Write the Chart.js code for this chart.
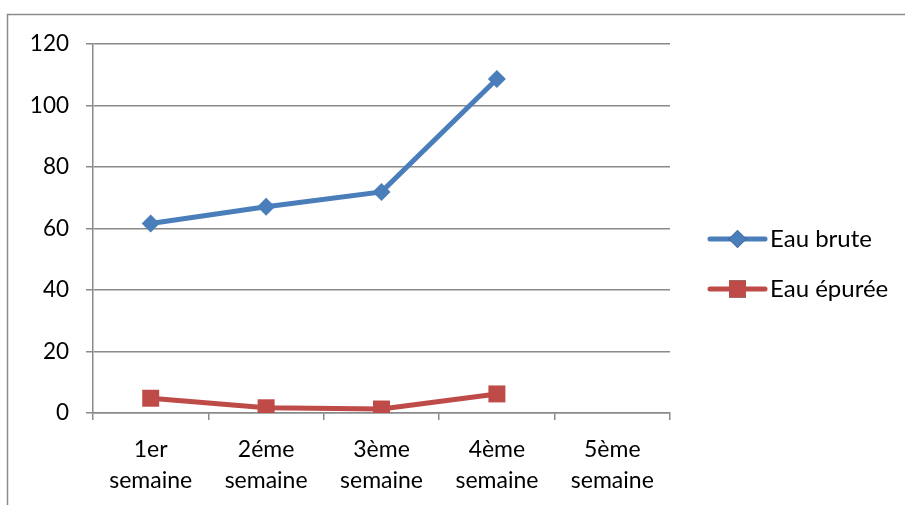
<!DOCTYPE html>
<html>
<head>
<meta charset="utf-8">
<script src="https://cdn.jsdelivr.net/npm/chart.js@4"></script>
<style>
  html, body { margin: 0; padding: 0; background: #fff; }
  #wrap { width: 905px; height: 505px; position: relative; }
</style>
</head>
<body>
<div id="wrap"><canvas id="c" width="905" height="505"></canvas></div>
<script>
// Weekly measurements
const weeks = [["1er", "semaine"], ["2éme", "semaine"], ["3ème", "semaine"], ["4ème", "semaine"], ["5ème", "semaine"]];
const eauBrute = [61.6, 67.1, 71.9, 108.6, null];
const eauEpuree = [4.8, 1.7, 1.3, 6.2, null];
const yTicks = [0, 20, 40, 60, 80, 100, 120];

const FONT = "Lato, 'Open Sans', sans-serif";
const GRID = '#8a8a8a';

// Outer frame around the whole chart
const framePlugin = {
  id: 'frame',
  beforeDraw(chart) {
    const ctx = chart.ctx;
    ctx.save();
    ctx.fillStyle = '#fff';
    ctx.fillRect(0, 0, chart.width, chart.height);
    ctx.strokeStyle = '#8c8c8c';
    ctx.lineWidth = 1.5;
    ctx.strokeRect(7.5, 14.5, chart.width + 10, chart.height + 10);
    ctx.restore();
  }
};

// Legend on the right: line sample with its marker, then the series name
const legendPlugin = {
  id: 'sideLegend',
  afterDraw(chart) {
    const ctx = chart.ctx;
    const x0 = 710, x1 = 765, tx = 770;
    const rows = [239, 289];
    chart.data.datasets.forEach((ds, i) => {
      const y = rows[i];
      ctx.save();
      ctx.strokeStyle = ds.borderColor;
      ctx.lineWidth = ds.borderWidth;
      ctx.lineCap = 'round';
      ctx.beginPath();
      ctx.moveTo(x0, y);
      ctx.lineTo(x1, y);
      ctx.stroke();
      Chart.helpers.drawPoint(ctx, {
        pointStyle: ds.pointStyle,
        radius: ds.pointRadius,
        borderWidth: 0,
        rotation: 0
      }, (x0 + x1) / 2, y);
      ctx.fillStyle = ds.pointBackgroundColor;
      ctx.fill();
      ctx.fillStyle = '#000';
      ctx.font = '24px ' + FONT;
      ctx.textBaseline = 'middle';
      ctx.textAlign = 'left';
      ctx.fillText(ds.label, tx, y);
      ctx.restore();
    });
  }
};

new Chart(document.getElementById('c'), {
  type: 'line',
  data: {
    labels: weeks,
    datasets: [
      {
        label: 'Eau brute',
        data: eauBrute,
        borderColor: '#4A7EBB',
        backgroundColor: '#4A7EBB',
        pointBackgroundColor: '#4A7EBB',
        pointBorderColor: '#4A7EBB',
        borderWidth: 5,
        pointStyle: 'rectRot',
        pointRadius: 9,
        pointBorderWidth: 0,
        tension: 0
      },
      {
        label: 'Eau épurée',
        data: eauEpuree,
        borderColor: '#BE4B48',
        backgroundColor: '#BE4B48',
        pointBackgroundColor: '#BE4B48',
        pointBorderColor: '#BE4B48',
        borderWidth: 5,
        pointStyle: 'rect',
        pointRadius: 12,
        pointBorderWidth: 0,
        tension: 0
      }
    ]
  },
  options: {
    responsive: false,
    animation: false,
    devicePixelRatio: 1,
    layout: { padding: { left: 0, top: 44, right: 235, bottom: 0 } },
    plugins: { legend: { display: false }, tooltip: { enabled: false } },
    scales: {
      x: {
        offset: true,
        grid: { offset: true, drawOnChartArea: false, drawTicks: true, tickLength: 7, color: GRID, lineWidth: 1.5 },
        border: { color: GRID, width: 1.5 },
        ticks: {
          color: '#000',
          font: { family: FONT, size: 23, lineHeight: 1.35 },
          padding: 14,
          maxRotation: 0,
          autoSkip: false
        },
        afterFit(scale) { scale.height = 92; }
      },
      y: {
        min: 0,
        max: 120,
        afterBuildTicks(scale) { scale.ticks = yTicks.map(v => ({ value: v })); },
        grid: { color: GRID, lineWidth: 1.5, tickLength: 7, drawTicks: true },
        border: { color: GRID, width: 1.5 },
        ticks: {
          color: '#000',
          font: { family: FONT, size: 22.5 },
          padding: 17
        },
        afterFit(scale) { scale.width = 93; }
      }
    }
  },
  plugins: [framePlugin, legendPlugin]
});
</script>
</body>
</html>
